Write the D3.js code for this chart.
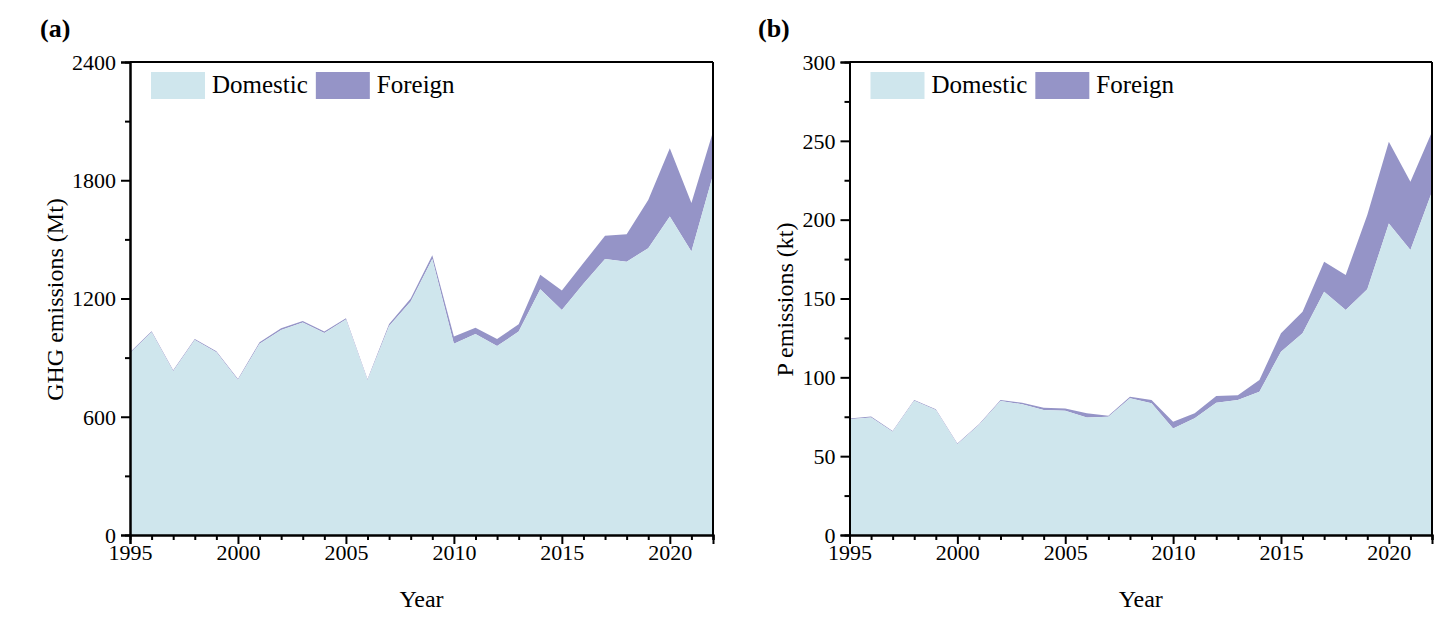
<!DOCTYPE html>
<html>
<head>
<meta charset="utf-8">
<script src="https://cdn.jsdelivr.net/npm/d3@7"></script>
<style>
  body { margin: 0; background: #fff; }
  svg { display: block; font-family: "Liberation Serif", "Times New Roman", serif; }
</style>
</head>
<body>
<svg id="chart" width="1443" height="626"></svg>
<script>
// values
const years = [1995, 1996, 1997, 1998, 1999, 2000, 2001, 2002, 2003, 2004,
  2005, 2006, 2007, 2008, 2009, 2010, 2011, 2012, 2013, 2014,
  2015, 2016, 2017, 2018, 2019, 2020, 2021, 2022];

// panel (a) GHG, Mt
const ghgDomestic = [922, 1029, 831, 990, 927, 787, 970, 1040, 1078, 1025,
  1093, 785, 1060, 1185, 1400, 970, 1020, 959, 1032, 1247,
  1142, 1275, 1400, 1387, 1455, 1616, 1438, 1827];
const ghgForeign = [5, 5, 5, 5, 5, 5, 8, 9, 8, 7,
  7, 5, 11, 15, 20, 37, 32, 36, 37, 73,
  98, 105, 118, 139, 245, 347, 246, 219];

// panel (b) P, kt
const pDomestic = [73.4, 74.6, 65.5, 85.2, 79.3, 57.5, 69.8, 85.0, 82.9, 79.3,
  78.8, 74.6, 75.0, 86.7, 83.5, 67.6, 74.0, 83.9, 85.6, 90.9,
  116.2, 127.9, 154.3, 142.7, 155.8, 197.6, 180.7, 217.7];
const pForeign = [0.5, 0.5, 0.5, 0.5, 0.5, 0.5, 0.5, 0.6, 1.0, 1.4,
  1.5, 2.6, 0.6, 1.0, 2.1, 4.2, 3.2, 4.2, 3.0, 7.4,
  11.7, 13.7, 19.0, 22.2, 47.2, 51.8, 43.3, 38.0];

const xMajor = [1995, 2000, 2005, 2010, 2015, 2020];
const ghgTicks = [0, 600, 1200, 1800, 2400];
const ghgMinor = [300, 900, 1500, 2100];
const pTicks = [0, 50, 100, 150, 200, 250, 300];
const pMinor = [25, 75, 125, 175, 225, 275];

const seriesNames = ["Domestic", "Foreign"];
const colDomestic = "#cfe6ed";
const colForeign = "#9594c7";

let svg = d3.select("#chart");

function drawPanel(p) {
  let top = 62, bottom = 535;
  let x = d3.scaleLinear().domain([1995, 2022]).range([p.left, p.right]);
  let y = d3.scaleLinear().domain([0, p.max]).range([bottom, top]);

  let rows = years.map((yr, i) => ({ yr: yr, dom: p.dom[i], tot: p.dom[i] + p.frn[i] }));

  let g = svg.append("g");

  // foreign band sits on top of domestic
  g.append("path")
    .datum(rows)
    .attr("fill", colForeign)
    .attr("d", d3.area().x(d => x(d.yr)).y0(d => y(d.dom)).y1(d => y(d.tot)));

  g.append("path")
    .datum(rows)
    .attr("fill", colDomestic)
    .attr("d", d3.area().x(d => x(d.yr)).y0(y(0)).y1(d => y(d.dom)));

  // frame lines top / right
  g.append("line").attr("x1", p.left).attr("x2", p.right).attr("y1", top).attr("y2", top)
    .attr("stroke", "#000").attr("stroke-width", 2);
  g.append("line").attr("x1", p.right).attr("x2", p.right).attr("y1", top).attr("y2", bottom)
    .attr("stroke", "#000").attr("stroke-width", 2);

  // x axis
  let xa = g.append("g").attr("transform", `translate(0,${bottom})`)
    .call(d3.axisBottom(x).tickValues(years.filter(v => xMajor.indexOf(v) < 0))
      .tickSize(5).tickFormat(""));
  let xb = g.append("g").attr("transform", `translate(0,${bottom})`)
    .call(d3.axisBottom(x).tickValues(xMajor).tickSize(9).tickPadding(0)
      .tickFormat(d3.format("d")));

  // y axis
  let ya = g.append("g").attr("transform", `translate(${p.left},0)`)
    .call(d3.axisLeft(y).tickValues(p.minor).tickSize(5).tickFormat(""));
  let yb = g.append("g").attr("transform", `translate(${p.left},0)`)
    .call(d3.axisLeft(y).tickValues(p.ticks).tickSize(9).tickPadding(5)
      .tickFormat(d3.format("d")));

  [xa, xb, ya, yb].forEach(a => {
    a.attr("font-family", null).attr("font-size", null);
    a.selectAll("path").attr("stroke-width", 2).attr("stroke", "#000");
    a.selectAll("line").attr("stroke-width", 2).attr("stroke", "#000");
    a.selectAll("text").attr("font-size", 22).attr("fill", "#000");
  });
  yb.selectAll("text").attr("dy", "0.33em");

  // axis titles
  g.append("text")
    .attr("x", (p.left + p.right) / 2).attr("y", 607)
    .attr("text-anchor", "middle").attr("font-size", 24)
    .text("Year");
  g.append("text")
    .attr("transform", `translate(${p.left - p.titleOff},${(top + bottom) / 2 + 1}) rotate(-90)`)
    .attr("text-anchor", "middle").attr("font-size", 24)
    .text(p.title);

  // panel label
  g.append("text")
    .attr("x", p.labelX).attr("y", 37)
    .attr("font-size", 26).attr("font-weight", "bold")
    .text(p.label);

  // legend
  let lx = p.left + 21;
  [colDomestic, colForeign].forEach((c, i) => {
    g.append("rect").attr("x", lx).attr("y", 72).attr("width", 54).attr("height", 27).attr("fill", c);
    let t = g.append("text").attr("x", lx + 61).attr("y", 93).attr("font-size", 25).text(seriesNames[i]);
    lx = lx + 61 + t.node().getComputedTextLength() + 8;
  });
}

drawPanel({ left: 130, right: 713, max: 2400, dom: ghgDomestic, frn: ghgForeign,
  ticks: ghgTicks, minor: ghgMinor, title: "GHG emissions (Mt)", titleOff: 67, label: "(a)", labelX: 40 });
drawPanel({ left: 849.5, right: 1432, max: 300, dom: pDomestic, frn: pForeign,
  ticks: pTicks, minor: pMinor, title: "P emissions (kt)", titleOff: 56.5, label: "(b)", labelX: 758 });
</script>
</body>
</html>
